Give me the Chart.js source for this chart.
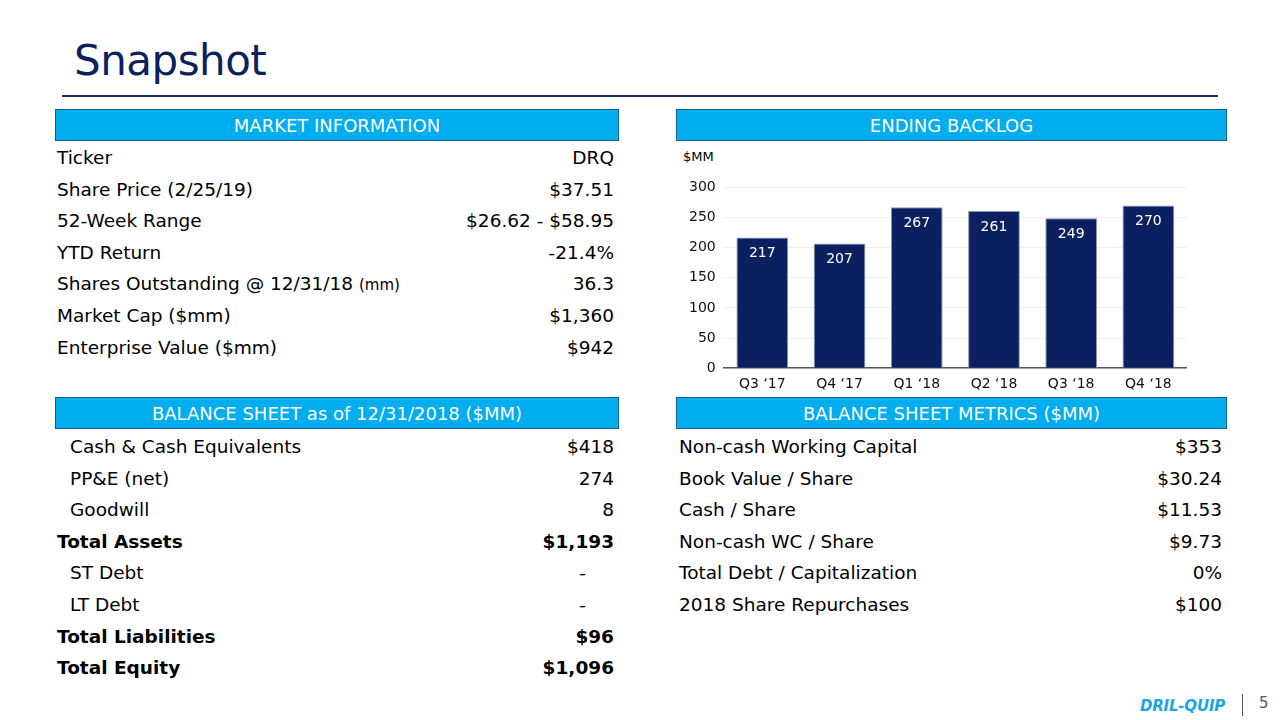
<!DOCTYPE html>
<html>
<head>
<meta charset="utf-8">
<script src="https://cdn.jsdelivr.net/npm/chart.js@4.4.1/dist/chart.umd.min.js"></script>
<style>
  body { margin: 0; width: 1280px; height: 720px; background: #fff; font-family: "DejaVu Sans", sans-serif; color: #000; position: relative; overflow: hidden; }
  .title { position: absolute; left: 74px; top: 36px; font-size: 42px; color: #0c1f5e; letter-spacing: -0.5px; }
  .rule { position: absolute; left: 62px; top: 95px; width: 1156px; height: 2px; background: #1a2a5c; }
  .hdr { position: absolute; height: 30px; background: #00adee; border: 1px solid #1b5c98; color: #fff; font-size: 18px; line-height: 31px; text-align: center; }
  .row { position: absolute; height: 30px; line-height: 30px; font-size: 18.5px; }
  .row .l { position: absolute; left: 0; white-space: nowrap; }
  .row .r { position: absolute; right: 0; white-space: nowrap; }
  .row.b { font-weight: bold; }
  .sm { font-size: 15px; }
  .mm { position: absolute; left: 683px; top: 149px; font-size: 13px; }
  #chartBox { position: absolute; left: 681px; top: 171px; width: 506px; height: 230px; }
  .logo { position: absolute; left: 1140px; top: 697px; font-size: 15px; font-weight: bold; font-style: italic; color: #1aa6e6; letter-spacing: -0.2px; }
  .bar { position: absolute; left: 1242px; top: 694px; width: 1px; height: 22px; background: #555; }
  .pg { position: absolute; left: 1259px; top: 694px; font-size: 15px; color: #555; }
</style>
</head>
<body>
<div class="title">Snapshot</div>
<div class="rule"></div>

<div class="hdr" style="left:55px;top:109px;width:562px;">MARKET INFORMATION</div>
<div class="hdr" style="left:676px;top:109px;width:549px;">ENDING BACKLOG</div>
<div class="hdr" style="left:55px;top:397px;width:562px;">BALANCE SHEET as of 12/31/2018 ($MM)</div>
<div class="hdr" style="left:676px;top:397px;width:549px;">BALANCE SHEET METRICS ($MM)</div>

<div id="market"></div>
<div id="balance"></div>
<div id="metrics"></div>

<div class="mm">$MM</div>
<div id="chartBox"><canvas id="backlogChart"></canvas></div>

<div class="logo">DRIL-QUIP</div>
<div class="bar"></div>
<div class="pg">5</div>

<script>
// ===== DATA =====
const quarters = ["Q3 \u201817", "Q4 \u201817", "Q1 \u201818", "Q2 \u201818", "Q3 \u201818", "Q4 \u201818"];
const backlog = [217, 207, 267, 261, 249, 270];
const yMax = 300;
const yStep = 50;

const marketLabels = ["Ticker", "Share Price (2/25/19)", "52-Week Range", "YTD Return",
  "Shares Outstanding @ 12/31/18 <span class='sm'>(mm)</span>", "Market Cap ($mm)", "Enterprise Value ($mm)"];
const marketValues = ["DRQ", "$37.51", "$26.62 - $58.95", "-21.4%", "36.3", "$1,360", "$942"];

const balanceLabels = ["Cash & Cash Equivalents", "PP&E (net)", "Goodwill", "Total Assets",
  "ST Debt", "LT Debt", "Total Liabilities", "Total Equity"];
const balanceValues = ["$418", "274", "8", "$1,193", "-", "-", "$96", "$1,096"];
const balanceBold = [false, false, false, true, false, false, true, true];

const metricLabels = ["Non-cash Working Capital", "Book Value / Share", "Cash / Share",
  "Non-cash WC / Share", "Total Debt / Capitalization", "2018 Share Repurchases"];
const metricValues = ["$353", "$30.24", "$11.53", "$9.73", "0%", "$100"];

// ===== TABLES =====
function buildRows(id, labels, values, left, width, top, opts) {
  const box = document.getElementById(id);
  labels.forEach((lab, i) => {
    const row = document.createElement('div');
    row.className = 'row' + (opts.bold && opts.bold[i] ? ' b' : '');
    row.style.left = left + 'px';
    row.style.width = width + 'px';
    row.style.top = (top + i * 31.6) + 'px';
    const indent = opts.bold && !opts.bold[i] ? 13 : 0;
    const rpad = values[i] === '-' ? 28 : 0;
    row.innerHTML = `<span class="l" style="left:${indent}px">${lab}</span><span class="r" style="right:${rpad}px">${values[i]}</span>`;
    box.appendChild(row);
  });
}
buildRows('market', marketLabels, marketValues, 57, 557, 143, {});
buildRows('balance', balanceLabels, balanceValues, 57, 557, 432, { bold: balanceBold });
buildRows('metrics', metricLabels, metricValues, 679, 543, 432, {});

// ===== CHART =====
const valueLabels = {
  id: 'valueLabels',
  afterDatasetsDraw(chart) {
    const ctx = chart.ctx;
    const meta = chart.getDatasetMeta(0);
    ctx.save();
    ctx.fillStyle = '#ffffff';
    ctx.font = '14px "DejaVu Sans"';
    ctx.textAlign = 'center';
    ctx.textBaseline = 'middle';
    meta.data.forEach((bar, i) => {
      ctx.fillText(chart.data.datasets[0].data[i], bar.x, bar.y + 16);
    });
    ctx.restore();
  }
};

new Chart(document.getElementById('backlogChart'), {
  type: 'bar',
  data: {
    labels: quarters,
    datasets: [{
      data: backlog,
      backgroundColor: '#0a2060',
      borderColor: '#8a94b0',
      borderWidth: 1,
      barPercentage: 0.67,
      categoryPercentage: 1
    }]
  },
  options: {
    responsive: true,
    maintainAspectRatio: false,
    animation: false,
    layout: { padding: { top: 8, right: 0, left: 0, bottom: 0 } },
    plugins: { legend: { display: false }, tooltip: { enabled: false } },
    scales: {
      y: {
        min: 0, max: yMax,
        ticks: { stepSize: yStep, color: '#111', font: { family: 'DejaVu Sans', size: 14 }, padding: 8 },
        grid: { color: '#efefef', drawTicks: false },
        border: { display: false }
      },
      x: {
        ticks: { color: '#111', font: { family: 'DejaVu Sans', size: 14 }, padding: 8 },
        grid: { display: false, drawTicks: false },
        border: { color: '#555', width: 1.5 }
      }
    }
  },
  plugins: [valueLabels]
});
</script>
</body>
</html>
